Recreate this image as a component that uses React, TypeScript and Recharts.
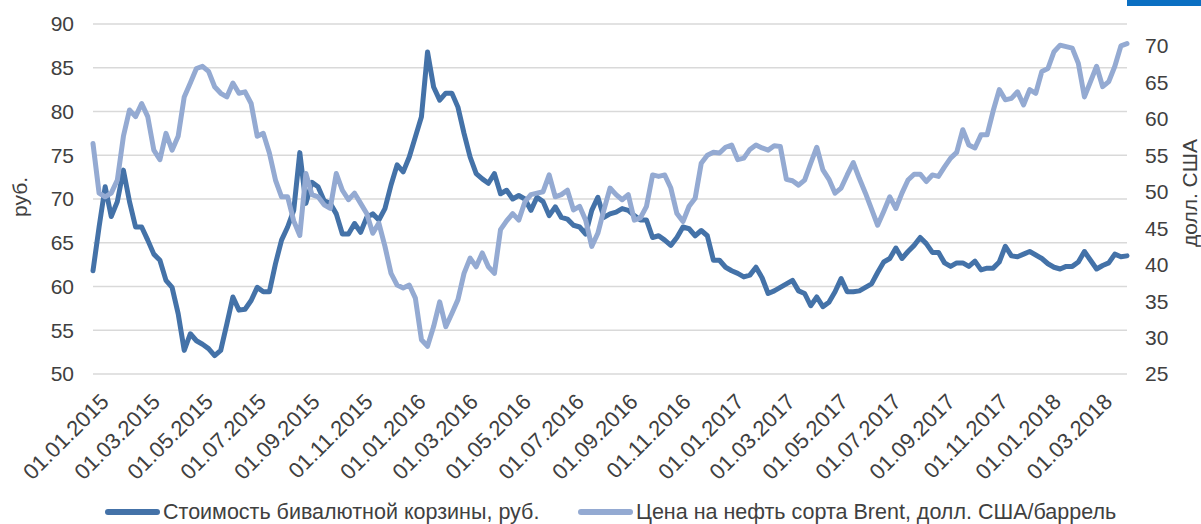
import React from 'react';
import { LineChart, Line, XAxis, YAxis, CartesianGrid } from 'recharts';

// weekly observations (Thursdays)
const dates = [
  '2015-01-01', '2015-01-08', '2015-01-15', '2015-01-22', '2015-01-29',
  '2015-02-05', '2015-02-12', '2015-02-19', '2015-02-26',
  '2015-03-05', '2015-03-12', '2015-03-19', '2015-03-26',
  '2015-04-02', '2015-04-09', '2015-04-16', '2015-04-23', '2015-04-30',
  '2015-05-07', '2015-05-14', '2015-05-21', '2015-05-28',
  '2015-06-04', '2015-06-11', '2015-06-18', '2015-06-25',
  '2015-07-02', '2015-07-09', '2015-07-16', '2015-07-23', '2015-07-30',
  '2015-08-06', '2015-08-13', '2015-08-20', '2015-08-27',
  '2015-09-03', '2015-09-10', '2015-09-17', '2015-09-24',
  '2015-10-01', '2015-10-08', '2015-10-15', '2015-10-22', '2015-10-29',
  '2015-11-05', '2015-11-12', '2015-11-19', '2015-11-26',
  '2015-12-03', '2015-12-10', '2015-12-17', '2015-12-24', '2015-12-31',
  '2016-01-07', '2016-01-14', '2016-01-21', '2016-01-28',
  '2016-02-04', '2016-02-11', '2016-02-18', '2016-02-25',
  '2016-03-03', '2016-03-10', '2016-03-17', '2016-03-24', '2016-03-31',
  '2016-04-07', '2016-04-14', '2016-04-21', '2016-04-28',
  '2016-05-05', '2016-05-12', '2016-05-19', '2016-05-26',
  '2016-06-02', '2016-06-09', '2016-06-16', '2016-06-23', '2016-06-30',
  '2016-07-07', '2016-07-14', '2016-07-21', '2016-07-28',
  '2016-08-04', '2016-08-11', '2016-08-18', '2016-08-25',
  '2016-09-01', '2016-09-08', '2016-09-15', '2016-09-22', '2016-09-29',
  '2016-10-06', '2016-10-13', '2016-10-20', '2016-10-27',
  '2016-11-03', '2016-11-10', '2016-11-17', '2016-11-24',
  '2016-12-01', '2016-12-08', '2016-12-15', '2016-12-22', '2016-12-29',
  '2017-01-05', '2017-01-12', '2017-01-19', '2017-01-26',
  '2017-02-02', '2017-02-09', '2017-02-16', '2017-02-23',
  '2017-03-02', '2017-03-09', '2017-03-16', '2017-03-23', '2017-03-30',
  '2017-04-06', '2017-04-13', '2017-04-20', '2017-04-27',
  '2017-05-04', '2017-05-11', '2017-05-18', '2017-05-25',
  '2017-06-01', '2017-06-08', '2017-06-15', '2017-06-22', '2017-06-29',
  '2017-07-06', '2017-07-13', '2017-07-20', '2017-07-27',
  '2017-08-03', '2017-08-10', '2017-08-17', '2017-08-24', '2017-08-31',
  '2017-09-07', '2017-09-14', '2017-09-21', '2017-09-28',
  '2017-10-05', '2017-10-12', '2017-10-19', '2017-10-26',
  '2017-11-02', '2017-11-09', '2017-11-16', '2017-11-23', '2017-11-30',
  '2017-12-07', '2017-12-14', '2017-12-21', '2017-12-28',
  '2018-01-04', '2018-01-11', '2018-01-18', '2018-01-25',
  '2018-02-01', '2018-02-08', '2018-02-15', '2018-02-22',
  '2018-03-01', '2018-03-08', '2018-03-15', '2018-03-22', '2018-03-29',
  '2018-04-05',
];

// Стоимость бивалютной корзины, руб.
const basket = [
  61.8, 66.8, 71.4, 68.0, 69.7, 73.3, 69.7, 66.8, 66.8, 65.3,
  63.7, 63.0, 60.7, 59.9, 56.9, 52.7, 54.6, 53.8, 53.4, 52.9,
  52.1, 52.7, 55.7, 58.8, 57.3, 57.4, 58.4, 59.9, 59.4, 59.4,
  62.6, 65.3, 66.8, 68.7, 75.3, 69.5, 71.9, 71.4, 69.8, 69.5,
  68.3, 66.0, 66.0, 67.2, 66.2, 67.9, 68.3, 67.6, 68.9, 71.6,
  73.9, 73.1, 74.8, 77.1, 79.4, 86.8, 82.8, 81.3, 82.1, 82.1,
  80.5, 77.5, 74.8, 72.9, 72.3, 71.8, 72.9, 70.6, 71.0, 70.0,
  70.4, 70.0, 68.7, 70.2, 69.7, 68.1, 69.1, 67.9, 67.7, 67.0,
  66.8, 66.0, 68.7, 70.2, 67.9, 68.3, 68.5, 68.9, 68.7, 68.1,
  67.6, 67.6, 65.6, 65.8, 65.3, 64.7, 65.6, 66.8, 66.6, 65.8,
  66.4, 65.8, 63.0, 63.0, 62.2, 61.8, 61.5, 61.1, 61.3, 62.2,
  61.0, 59.2, 59.5, 59.9, 60.3, 60.7, 59.5, 59.2, 57.8, 58.8,
  57.7, 58.2, 59.4, 60.9, 59.4, 59.4, 59.5, 59.9, 60.3, 61.6,
  62.8, 63.2, 64.4, 63.2, 64.0, 64.7, 65.6, 64.9, 63.9, 63.9,
  62.7, 62.3, 62.7, 62.7, 62.3, 62.9, 61.9, 62.1, 62.1, 62.8,
  64.6, 63.5, 63.4, 63.7, 64.0, 63.6, 63.2, 62.6, 62.2, 62.0,
  62.3, 62.3, 62.8, 64.0, 63.0, 62.0, 62.4, 62.7, 63.7, 63.4,
  63.5,
];

// Цена на нефть сорта Brent, долл. США/баррель
const brent = [
  56.6, 49.8, 49.3, 49.8, 51.6, 57.6, 61.2, 60.3, 62.1, 60.3,
  55.7, 54.4, 58.0, 55.7, 57.6, 63.0, 64.9, 66.9, 67.2, 66.5,
  64.4, 63.5, 63.0, 64.9, 63.5, 63.7, 62.1, 57.6, 58.0, 55.3,
  51.6, 49.3, 49.3, 46.0, 44.0, 52.5, 49.6, 49.3, 48.2, 47.7,
  52.5, 50.2, 48.9, 49.8, 48.4, 47.0, 44.3, 45.7, 42.5, 38.8,
  37.2, 36.8, 37.2, 35.4, 29.7, 28.8, 31.5, 34.9, 31.5, 33.3,
  35.2, 38.8, 40.9, 39.7, 41.6, 39.7, 38.8, 44.8, 46.0, 47.0,
  46.1, 48.6, 49.6, 49.8, 50.0, 52.3, 49.3, 49.6, 50.2, 47.5,
  48.0, 46.1, 42.5, 44.3, 47.5, 50.5, 49.6, 48.9, 49.6, 46.1,
  46.4, 48.0, 52.3, 52.1, 52.3, 50.5, 47.0, 45.9, 48.0, 49.1,
  53.9, 55.0, 55.4, 55.3, 56.1, 56.4, 54.4, 54.6, 55.8, 56.4,
  56.0, 55.7, 56.3, 56.2, 51.7, 51.5, 50.9, 51.6, 53.9, 56.1,
  53.0, 51.7, 49.8, 50.5, 52.3, 54.0, 51.8, 49.8, 47.6, 45.4,
  47.3, 49.3, 47.7, 49.8, 51.6, 52.4, 52.4, 51.4, 52.3, 52.1,
  53.4, 54.6, 55.4, 58.5, 56.4, 56.0, 57.8, 57.8, 61.1, 64.0,
  62.6, 62.8, 63.7, 61.9, 64.0, 63.5, 66.5, 66.9, 69.2, 70.1,
  69.9, 69.7, 67.6, 63.0, 65.1, 67.2, 64.4, 65.1, 67.2, 70.0,
  70.3,
];

const tickDates = [
  '2015-01-01', '2015-03-01', '2015-05-01', '2015-07-01', '2015-09-01', '2015-11-01',
  '2016-01-01', '2016-03-01', '2016-05-01', '2016-07-01', '2016-09-01', '2016-11-01',
  '2017-01-01', '2017-03-01', '2017-05-01', '2017-07-01', '2017-09-01', '2017-11-01',
  '2018-01-01', '2018-03-01',
];

const leftTicks = [50, 55, 60, 65, 70, 75, 80, 85, 90];
const rightTicks = [25, 30, 35, 40, 45, 50, 55, 60, 65, 70];

const basketName = 'Стоимость бивалютной корзины, руб.';
const brentName = 'Цена на нефть сорта Brent, долл. США/баррель';

const DARK = '#4472A8';
const LIGHT = '#94AAD2';
const TEXT = '#404040';
const FONT = '"Liberation Sans", Arial, sans-serif';

const data = dates.map((d, i) => ({ t: Date.parse(d), basket: basket[i], brent: brent[i] }));

const pad = (n: number) => (n < 10 ? '0' + n : '' + n);
const fmtDate = (ts: number) => {
  const d = new Date(ts);
  return `${pad(d.getUTCDate())}.${pad(d.getUTCMonth() + 1)}.${d.getUTCFullYear()}`;
};

const DateTick = (props: any) => {
  const { x, y, payload } = props;
  const ax = x + 6;
  return (
    <text
      x={ax}
      y={y}
      dy="0.71em"
      textAnchor="end"
      transform={`rotate(-45 ${ax} ${y})`}
      fill={TEXT}
      fontSize={22}
      fontFamily={FONT}
    >
      {fmtDate(payload.value)}
    </text>
  );
};

const AxisTitle = ({ cx, cy, text }: { cx: number; cy: number; text: string }) => (
  <div
    style={{
      position: 'absolute',
      left: cx,
      top: cy,
      transform: 'translate(-50%, -50%) rotate(-90deg)',
      whiteSpace: 'nowrap',
      fontSize: 21,
      color: TEXT,
      fontFamily: FONT,
    }}
  >
    {text}
  </div>
);

const LegendItem = ({ left, color, text }: { left: number; color: string; text: string }) => (
  <div style={{ position: 'absolute', left, top: 498, display: 'flex', alignItems: 'center', height: 28 }}>
    <div style={{ width: 55, height: 6, borderRadius: 3, background: color }} />
    <span style={{ marginLeft: 3, fontSize: 21.5, color: TEXT, fontFamily: FONT, whiteSpace: 'nowrap' }}>{text}</span>
  </div>
);

const App: React.FC = () => {
  const tickStyle = { fill: TEXT, fontSize: 21, fontFamily: FONT };
  return (
    <div style={{ position: 'relative', width: 1201, height: 524, background: '#fff', overflow: 'hidden' }}>
      <style>{'body { margin: 0; }'}</style>
      <div style={{ position: 'absolute', left: 1127, top: 0, width: 74, height: 6, background: '#0B6FC2' }} />
      <LineChart width={1201} height={524} data={data} margin={{ top: 24, right: 0, bottom: 0, left: 0 }}>
        <CartesianGrid yAxisId="left" vertical={false} stroke="#D9D9D9" strokeWidth={1.5} />
        <XAxis
          dataKey="t"
          type="number"
          domain={[Date.parse('2015-01-01'), Date.parse('2018-04-05')]}
          ticks={tickDates.map((d) => Date.parse(d))}
          tick={<DateTick />}
          interval={0}
          height={150}
          axisLine={false}
          tickLine={false}
          tickSize={0}
          tickMargin={18}
        />
        <YAxis
          yAxisId="left"
          domain={[50, 90]}
          ticks={leftTicks}
          width={93}
          axisLine={false}
          tickLine={false}
          tickSize={0}
          tickMargin={19}
          tick={tickStyle}
        />
        <YAxis
          yAxisId="right"
          orientation="right"
          domain={[25, 73]}
          ticks={rightTicks}
          width={74}
          axisLine={false}
          tickLine={false}
          tickSize={0}
          tickMargin={18}
          tick={tickStyle}
          allowDataOverflow
        />
        <Line
          yAxisId="left"
          dataKey="basket"
          name={basketName}
          stroke={DARK}
          strokeWidth={5}
          strokeLinejoin="round"
          strokeLinecap="round"
          dot={false}
          isAnimationActive={false}
        />
        <Line
          yAxisId="right"
          dataKey="brent"
          name={brentName}
          stroke={LIGHT}
          strokeWidth={5}
          strokeLinejoin="round"
          strokeLinecap="round"
          dot={false}
          isAnimationActive={false}
        />
      </LineChart>
      <AxisTitle cx={20} cy={197} text="руб." />
      <AxisTitle cx={1190} cy={193} text="долл. США" />
      <LegendItem left={105} color={DARK} text={basketName} />
      <LegendItem left={578} color={LIGHT} text={brentName} />
    </div>
  );
};

export default App;
